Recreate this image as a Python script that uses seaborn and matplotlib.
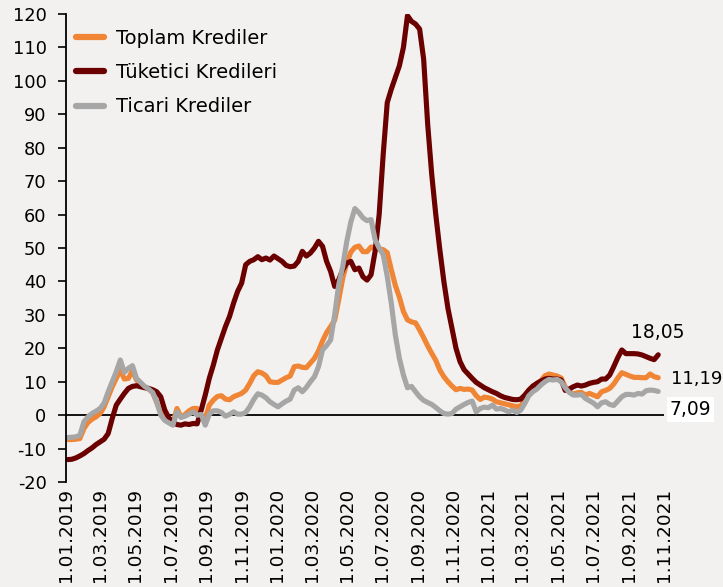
import numpy as np
import pandas as pd
import matplotlib
matplotlib.use("Agg")
import matplotlib.pyplot as plt
import seaborn as sns

# ---- data -------------------------------------------------------------
start_date = "2019-01-04"
n_weeks = 147

toplam = [
    -7.3, -7.3, -7.2, -7.0, -4.0, -2.2, -1.2, -0.5, 0.5, 2.5,
    5.5, 8.5, 11.0, 13.5, 10.8, 11.0, 13.3, 10.5, 9.3, 8.5,
    7.8, 6.8, 3.8, 0.8, -0.8, -1.8, -2.5, 2.0, -0.5, 0.2,
    1.3, 2.0, 2.0, -0.5, -1.0, 3.0, 4.5, 5.6, 5.8, 4.8,
    4.6, 5.5, 6.0, 6.5, 7.5, 9.5, 11.8, 13.0, 12.6, 11.8,
    10.0, 9.8, 9.8, 10.5, 11.2, 11.7, 14.5, 14.7, 14.3, 14.2,
    15.6, 17.0, 19.2, 22.2, 24.7, 26.5, 28.4, 34.5, 41.0, 45.5,
    48.8, 50.2, 50.6, 48.9, 48.9, 50.3, 50.0, 49.7, 49.5, 48.6,
    43.5, 38.8, 35.3, 31.0, 28.5, 27.9, 27.6, 25.5, 23.2, 20.7,
    18.5, 16.4, 13.5, 11.5, 10.0, 8.7, 7.6, 8.0, 7.7, 7.8,
    7.5, 5.8, 4.7, 5.4, 5.2, 4.8, 4.0, 3.7, 3.4, 3.1,
    2.8, 2.5, 2.8, 4.5, 6.5, 7.9, 9.5, 10.3, 11.8, 12.3,
    12.0, 11.7, 11.1, 8.5, 7.0, 6.3, 6.7, 6.8, 6.0, 6.5,
    6.0, 5.5, 7.0, 7.4, 8.0, 9.3, 11.1, 12.7, 12.2, 11.7,
    11.3, 11.3, 11.2, 11.2, 12.3, 11.5, 11.19,
]

tuketici = [
    -13.3, -13.2, -12.8, -12.2, -11.5, -10.6, -9.8, -8.8, -8.0, -7.2,
    -5.5, -1.0, 3.0, 4.8, 6.5, 8.0, 8.6, 8.8, 8.5, 8.2,
    8.0, 7.6, 7.0, 5.5, 1.5, -0.8, -2.2, -2.8, -3.0, -2.6,
    -2.8, -2.5, -2.6, 1.5, 6.0, 11.0, 15.0, 19.5, 23.0, 26.5,
    29.5, 33.5, 37.0, 39.5, 45.0, 46.0, 46.5, 47.4, 46.5, 47.0,
    46.4, 47.6, 46.8, 46.0, 44.8, 44.4, 44.6, 46.0, 49.0, 47.6,
    48.5, 50.0, 52.0, 50.5, 46.0, 43.0, 38.5, 40.5, 43.5, 45.5,
    46.0, 43.5, 44.0, 41.4, 40.4, 42.0, 49.0, 60.0, 78.0, 93.5,
    97.5, 101.0, 104.5, 110.0, 119.5, 117.8, 117.0, 115.5, 106.5, 87.0,
    72.0, 60.0, 49.5, 40.0, 32.0, 26.0, 20.0, 16.0, 13.6, 12.3,
    11.0, 9.8, 9.0, 8.2, 7.6, 7.0, 6.5, 5.8, 5.3, 5.0,
    4.7, 4.6, 4.8, 6.0, 7.5, 8.7, 9.5, 10.2, 10.8, 11.0,
    10.8, 10.8, 10.5, 7.4, 7.8, 8.5, 9.0, 8.7, 9.0, 9.5,
    9.8, 10.0, 10.8, 10.8, 12.0, 14.5, 17.2, 19.5, 18.4, 18.4,
    18.4, 18.3, 18.0, 17.5, 17.0, 16.6, 18.05,
]

ticari = [
    -6.7, -6.6, -6.5, -6.0, -2.0, -0.5, 0.5, 1.2, 2.0, 3.6,
    7.0, 10.0, 13.0, 16.5, 12.8, 14.0, 14.8, 11.0, 9.8, 8.6,
    7.8, 6.8, 4.0, 0.0, -1.6, -2.3, -3.0, 1.0, -0.7, -0.3,
    0.3, 1.0, 0.0, 0.2, -3.0, 0.3, 1.3, 1.3, 0.8, -0.3,
    0.2, 1.0, 0.3, 0.3, 0.8, 2.5, 4.7, 6.4, 6.0, 5.2,
    4.0, 3.2, 2.5, 3.4, 4.2, 4.8, 7.5, 8.2, 7.0, 8.3,
    10.0, 11.5, 14.5, 19.5, 20.8, 22.5, 30.0, 39.0, 44.5, 52.0,
    57.8, 61.8, 60.6, 59.0, 58.2, 58.5, 52.5, 50.0, 48.0, 41.5,
    33.5, 24.0, 17.0, 12.0, 8.2, 8.6, 7.0, 5.5, 4.4, 3.8,
    3.2, 2.3, 1.3, 0.5, 0.3, 0.5, 1.8, 2.5, 3.2, 3.8,
    4.2, 1.0, 2.0, 2.4, 2.2, 3.0, 1.8, 2.0, 1.6, 1.0,
    1.5, 0.8, 1.5, 3.5, 5.8, 7.0, 7.8, 9.0, 10.0, 10.7,
    10.5, 10.7, 10.0, 8.2, 6.8, 6.0, 6.0, 6.2, 5.0, 4.3,
    3.6, 2.5, 3.7, 4.0, 3.2, 2.9, 4.2, 5.5, 6.2, 6.2,
    6.0, 6.5, 6.3, 7.3, 7.5, 7.4, 7.09,
]

series_names = ["Toplam Krediler", "Tüketici Kredileri", "Ticari Krediler"]
series_colors = ["#EF8535", "#6A0000", "#A6A6A6"]
end_labels = ["11,19", "18,05", "7,09"]

tick_dates = ["2019-01-01", "2019-03-01", "2019-05-01", "2019-07-01", "2019-09-01",
              "2019-11-01", "2020-01-01", "2020-03-01", "2020-05-01", "2020-07-01",
              "2020-09-01", "2020-11-01", "2021-01-01", "2021-03-01", "2021-05-01",
              "2021-07-01", "2021-09-01", "2021-11-01"]
tick_labels = ["1.01.2019", "1.03.2019", "1.05.2019", "1.07.2019", "1.09.2019",
               "1.11.2019", "1.01.2020", "1.03.2020", "1.05.2020", "1.07.2020",
               "1.09.2020", "1.11.2020", "1.01.2021", "1.03.2021", "1.05.2021",
               "1.07.2021", "1.09.2021", "1.11.2021"]

# ---- build long table -------------------------------------------------
dates = pd.date_range(start_date, periods=n_weeks, freq="7D")
df = pd.concat([
    pd.DataFrame({"Tarih": dates, "Deger": vals, "Seri": name})
    for name, vals in zip(series_names, [toplam, tuketici, ticari])
], ignore_index=True)

# ---- style ------------------------------------------------------------
bg = "#F2F1EF"
sns.set_style("white")
plt.rcParams["font.family"] = ["DejaVu Sans"]
plt.rcParams["axes.unicode_minus"] = False
plt.rcParams["text.color"] = "black"
plt.rcParams["xtick.color"] = "black"
plt.rcParams["ytick.color"] = "black"

fig = plt.figure(figsize=(7.23, 5.87), dpi=100, facecolor=bg)
ax = fig.add_axes([66 / 723, 1 - 482 / 587, (664 - 66) / 723, (482 - 14) / 587])
ax.set_facecolor(bg)

sns.lineplot(data=df, x="Tarih", y="Deger", hue="Seri",
             palette=dict(zip(series_names, series_colors)),
             hue_order=series_names, linewidth=3.7, ax=ax)

ax.axhline(0, color="black", linewidth=1.3, zorder=1)

ax.set_ylim(-20, 120)
ax.set_yticks(np.arange(-20, 121, 10))
ax.set_xlim(pd.Timestamp("2019-01-01"), pd.Timestamp("2021-11-01"))
ax.set_xticks(pd.to_datetime(tick_dates))
ax.set_xticklabels(tick_labels, rotation=90, fontsize=13.3)
ax.tick_params(axis="y", labelsize=12.8, direction="out", length=6, width=1.2,
               color="black", left=True, pad=8)
ax.tick_params(axis="x", length=0, bottom=False, pad=4.5)
ax.set_xlabel("")
ax.set_ylabel("")

for side in ["top", "right", "bottom"]:
    ax.spines[side].set_visible(False)
ax.spines["left"].set_color("black")
ax.spines["left"].set_linewidth(1.3)

# legend
leg = ax.legend(loc="upper left", bbox_to_anchor=(0.016, 0.968), frameon=False,
                fontsize=14, handlelength=1.45, handletextpad=0.65,
                labelspacing=0.78, borderaxespad=0, borderpad=0)
for line in leg.get_lines():
    line.set_linewidth(4.5)
    line.set_solid_capstyle("round")

# end labels
last = dates[-1]
ax.annotate(end_labels[1], xy=(last, tuketici[-1]), xytext=(0, 16),
            textcoords="offset points", ha="center", va="center", fontsize=13.5)
ax.annotate(end_labels[0], xy=(last, toplam[-1]), xytext=(9, -1),
            textcoords="offset points", ha="left", va="center", fontsize=13)
ax.annotate(end_labels[2], xy=(last, ticari[-1]), xytext=(8, -13),
            textcoords="offset points", ha="left", va="center", fontsize=13.5,
            bbox=dict(boxstyle="square,pad=0.15", fc="white", ec="none"))

fig.savefig("out.png", dpi=100, facecolor=bg)
